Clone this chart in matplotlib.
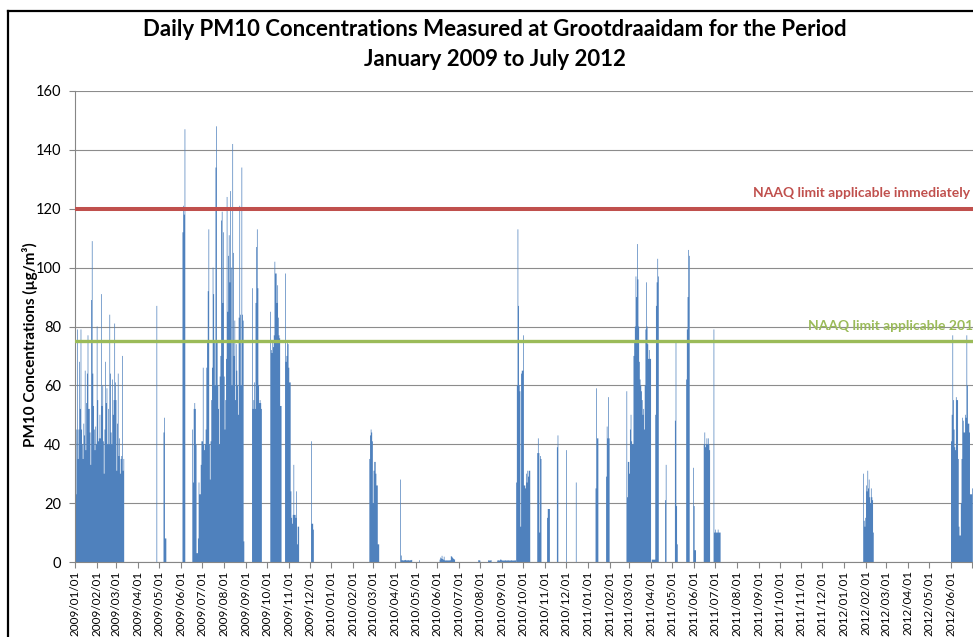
import matplotlib
matplotlib.use("Agg")
import matplotlib.dates as mdates
import matplotlib.pyplot as plt
import matplotlib.transforms as mtransforms
import pandas as pd
from matplotlib.lines import Line2D
from matplotlib.ticker import FuncFormatter

# Daily PM10 (ug/m3) at Grootdraaidam, one list per run of consecutive days
jan_mar_2009 = [41, 23, 45, 79, 35, 45, 68, 52, 79, 45,
                40, 35, 47, 43, 65, 38, 54, 64, 77, 52,
                52, 44, 33, 89, 109, 64, 53, 45, 38, 46,
                40, 80, 55, 41, 42, 50, 42, 91, 53, 60,
                41, 30, 45, 68, 54, 59, 40, 52, 40, 84,
                64, 44, 40, 62, 50, 55, 81, 61, 55, 31,
                47, 64, 36, 42, 30, 35, 36, 70, 31, 35]
apr_2009 = [87]
may_2009 = [44, 49, 8, 8]
jun_2009 = [112, 121, 118, 147]
winter_2009 = [45, 27, 52, 54, 52, 40, 3, 3, 8, 27,
               23, 23, 33, 41, 41, 66, 40, 38, 40, 45,
               66, 75, 92, 113, 40, 28, 41, 55, 66, 100,
               91, 75, 60, 134, 148, 75, 60, 52, 40, 63,
               70, 116, 119, 88, 112, 63, 45, 55, 69, 124,
               85, 104, 111, 95, 126, 100, 60, 142, 105, 70,
               82, 55, 74, 65, 60, 50, 83, 121, 84, 60,
               134, 84, 82, 7]
sep_2009 = [93, 52, 55, 61, 52, 88, 107, 113, 93, 60, 54, 55, 54, 52]
oct_2009 = [85, 72, 71, 75, 73, 77, 102, 98, 98, 88, 94, 83, 77, 76, 53, 53]
nov_2009 = [98, 68, 70, 75, 74, 66, 61, 61, 24, 15, 13, 16, 33, 16, 16, 15, 24, 6, 12, 12]
dec_2009 = [41, 13, 13, 11]
mar_2010 = [35, 43, 45, 44, 41, 20, 31, 34, 34, 30, 26, 26, 6, 6]
apr_2010 = [28, 2.2, 0.6, 0.6, 0.5, 0.6, 0.6, 0.7, 0.6, 0.5, 0.6, 0.6, 0.6, 0.5, 0.6, 0.6, 0.7]
may_2010 = [0.6]
jun_2010 = [0.8, 1.5, 1.2, 2.1, 1.0, 0.8, 1.8, 0.6, 0.5, 0.5, 0.6,
            0.5, 0.5, 0.6, 0.5, 0.6, 2.0, 1.8, 1.5, 1.2, 1.0, 0.8]
jul_2010 = [0.6, 0.6, 0.5]
aug_2010 = [0.6, 0.4, 0.6, 0.5, 0.6]
aug_sep_2010 = [0.5, 0.6, 0.5, 0.5, 0.8, 0.8, 0.6, 0.5, 0.5, 0.5, 0.5, 0.6, 0.5, 0.5,
                0.5, 0.6, 0.5, 0.5, 0.5, 0.5, 0.6, 0.5, 0.5, 0.5, 0.5, 0.6, 0.5]
sep_oct_2010 = [27, 60, 113, 87, 60, 58, 12, 64, 65, 65, 77, 26, 26, 25, 30, 27, 31, 29, 31, 31]
oct_2010 = [37, 42, 37, 10, 36, 35]
nov_2010_a = [15, 18, 18, 18]
nov_2010_b = [39, 43]
dec_2010_a = [38]
dec_2010_b = [27]
jan_2011_a = [25, 59, 42, 42]
jan_2011_b = [29, 46, 42, 56, 42]
mar_2011 = [58, 22, 34, 34, 30, 45, 50, 41, 40, 40,
            70, 75, 80, 97, 90, 108, 96, 80, 68, 62,
            60, 58, 55, 50, 52, 45, 60, 79, 95, 80,
            74, 69, 72, 69, 69, 0, 0.8, 0.8, 0.8, 0.8,
            0.8, 50, 87, 95, 103, 97]
apr_2011 = [21, 33]
may_2011 = [48, 75, 19, 6]
may_jun_2011 = [62, 79, 90, 106, 104]
jun_2011_a = [32, 19, 4, 4]
jun_2011_b = [40, 44, 39, 40, 42, 40, 42, 40, 38]
jul_2011 = [79, 10, 11, 10, 10, 10, 11, 10, 10, 10]
jan_2012 = [30, 14, 12, 15, 26, 24, 31, 25, 28, 22, 20, 25, 22, 21, 10]
jun_2012 = [41, 50, 77, 55, 45, 39, 38, 56, 55, 55, 35, 12, 9, 9, 20, 35,
            49, 48, 44, 44, 50, 49, 77, 60, 47, 47, 44, 23, 23, 23, 25]

runs = [
    ("2009-01-01", jan_mar_2009), ("2009-04-27", apr_2009), ("2009-05-07", may_2009),
    ("2009-06-03", jun_2009), ("2009-06-17", winter_2009), ("2009-09-10", sep_2009),
    ("2009-10-06", oct_2009), ("2009-10-27", nov_2009), ("2009-12-03", dec_2009),
    ("2010-02-24", mar_2010), ("2010-04-09", apr_2010), ("2010-05-06", may_2010),
    ("2010-06-04", jun_2010), ("2010-07-29", jul_2010), ("2010-08-12", aug_2010),
    ("2010-08-25", aug_sep_2010), ("2010-09-21", sep_oct_2010), ("2010-10-21", oct_2010),
    ("2010-11-04", nov_2010_a), ("2010-11-18", nov_2010_b), ("2010-12-01", dec_2010_a),
    ("2010-12-15", dec_2010_b), ("2011-01-12", jan_2011_a), ("2011-01-27", jan_2011_b),
    ("2011-02-25", mar_2011), ("2011-04-21", apr_2011), ("2011-05-05", may_2011),
    ("2011-05-21", may_jun_2011), ("2011-05-31", jun_2011_a), ("2011-06-15", jun_2011_b),
    ("2011-06-29", jul_2011), ("2012-01-28", jan_2012), ("2012-06-01", jun_2012),
]

LIMIT_NOW = 120
LIMIT_2015 = 75
Y_TICKS = [0, 20, 40, 60, 80, 100, 120, 140, 160]
LAST_LABEL = pd.Timestamp("2012-06-01")

plt.rcParams["font.family"] = ["Lato", "DejaVu Sans"]
# keep single-day spikes: path simplification would drop sub-pixel detail
plt.rcParams["path.simplify"] = False

W, H = 973, 637
fig = plt.figure(figsize=(W / 100, H / 100), dpi=100)
fig.patch.set_facecolor("white")

# plot area runs past the right edge of the picture, like the cropped original
x0 = pd.Timestamp("2009-01-01")
x1 = pd.Timestamp("2012-07-31")
px_per_day = 0.7025
ax_w = (x1 - x0).days * px_per_day
ax = fig.add_axes([75 / W, 75 / H, ax_w / W, 471 / H])

# one-day bars are narrower than a pixel: draw each run of days as a single
# filled step outline (unsnapped) so dense stretches stay solid and spikes stay
for start, vals in runs:
    edges = mdates.date2num(pd.date_range(start, periods=len(vals) + 1, freq="D"))
    ax.stairs(vals, edges, fill=True, baseline=0, color="#4F81BD",
              linewidth=0, zorder=2, snap=False)
ax.axhline(LIMIT_NOW, color="#C0504D", linewidth=2.9, zorder=3)
ax.axhline(LIMIT_2015, color="#9BBB59", linewidth=2.4, zorder=3)

ax.xaxis_date()
ax.set_xlim(mdates.date2num(x0), mdates.date2num(x1))
ax.set_ylim(0, 160)
ax.set_yticks(Y_TICKS)
ax.xaxis.set_major_locator(mdates.MonthLocator())


def month_label(x, pos):
    d = mdates.num2date(x).replace(tzinfo=None)
    return "" if d > LAST_LABEL else d.strftime("%Y/%m/%d")


ax.xaxis.set_major_formatter(FuncFormatter(month_label))
ax.yaxis.grid(True, color="#8c8c8c", linewidth=0.8)
ax.set_axisbelow(True)

for side in ["top", "right"]:
    ax.spines[side].set_visible(False)
for side in ["left", "bottom"]:
    ax.spines[side].set_color("#868686")
    ax.spines[side].set_linewidth(0.8)

ax.tick_params(axis="y", length=4, color="#868686", labelsize=10.5, pad=6)
ax.tick_params(axis="x", length=4, color="#868686", labelsize=8.5, pad=2,
               labelrotation=90)

fig_y = mtransforms.blended_transform_factory(fig.transFigure, ax.transData)
ax.text(970 / W, 125.4, "NAAQ limit applicable immediately", transform=fig_y,
        ha="right", va="center", color="#C0504D", fontsize=10, fontweight="bold")
ax.text(808 / W, 80.3, "NAAQ limit applicable 2015", transform=fig_y,
        ha="left", va="center", color="#9BBB59", fontsize=10, fontweight="bold",
        clip_on=False)

fig.text(495 / W, 1 - 30 / H, "Daily PM10 Concentrations Measured at Grootdraaidam for the Period",
         ha="center", va="center", fontsize=16, fontweight="bold")
fig.text(495 / W, 1 - 60 / H, "January 2009 to July 2012",
         ha="center", va="center", fontsize=16, fontweight="bold")
fig.text(30 / W, 1 - 345 / H, "PM10 Concentrations (µg/m³)", rotation=90,
         ha="center", va="center", fontsize=11, fontweight="bold")

# black chart-area border (left and top edges visible in the crop)
fig.add_artist(Line2D([8 / W, 8 / W], [0, 1 - 11 / H], transform=fig.transFigure,
                      color="black", linewidth=1.6))
fig.add_artist(Line2D([8 / W, 1], [1 - 11 / H, 1 - 11 / H], transform=fig.transFigure,
                      color="black", linewidth=1.6))

fig.savefig("out.png", dpi=100)
plt.close(fig)
